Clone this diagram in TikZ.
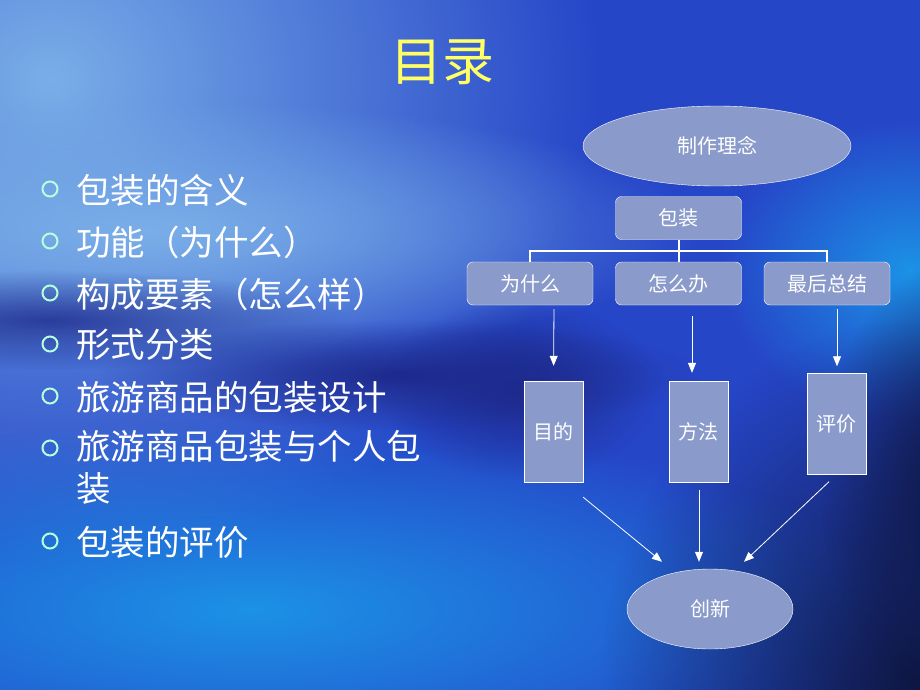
\documentclass[tikz,border=0pt]{standalone}
\usepackage{fontspec}
\setmainfont{Noto Sans CJK SC}
\usetikzlibrary{shapes.geometric,arrows.meta,fadings}

\definecolor{bgbase}{HTML}{2646C8}
\definecolor{bglight}{HTML}{7AAEE8}
\definecolor{bgdark}{HTML}{1E2A8C}
\definecolor{bgcyan}{HTML}{1C92E6}
\definecolor{bgnavy}{HTML}{0E1640}
\definecolor{boxfill}{HTML}{8A9ACB}
\definecolor{titlecol}{HTML}{FFFF66}
\definecolor{bulcol}{HTML}{B4FFDC}

\tikzfading[name=blob, inner color=transparent!0, outer color=transparent!100]

\tikzset{
  oval/.style={ellipse, draw=white, fill=boxfill, text=white, inner sep=0pt,
    font=\fontsize{20}{24}\selectfont},
  rbox/.style={rectangle, rounded corners=6pt, draw=white, fill=boxfill, text=white,
    minimum width=126pt, minimum height=43pt, inner sep=0pt, font=\fontsize{20}{24}\selectfont},
  tallbox/.style={rectangle, draw=white, fill=boxfill, text=white, minimum width=59pt,
    minimum height=101pt, inner sep=0pt, font=\fontsize{20}{24}\selectfont},
  conn/.style={draw=white, line width=2pt},
  arr/.style={draw=white, line width=0.8pt, -{Triangle[length=10pt,width=8pt]}},
  item/.style={anchor=west, text=white, align=left, inner sep=0pt,
    font=\fontsize{34.5}{42}\selectfont},
  bullet/.style={draw=bulcol, line width=2pt},
}

\begin{document}
\begin{tikzpicture}[x=1pt, y=-1pt]
  \useasboundingbox (0,0) rectangle (920,690);

  % Background
  \fill[bgbase] (0,0) rectangle (920,690);
  \fill[bglight, path fading=blob] (-500,-400) rectangle (600,560);   % top left glow
  \fill[bglight, path fading=blob] (-400,100) rectangle (700,360);    % light streak
  \fill[bgdark, path fading=blob, opacity=0.8] (-250,270) rectangle (350,370); % dark band, left
  \fill[bgdark, path fading=blob] (100,320) rectangle (700,430);      % dark band, right
  \fill[bgcyan, path fading=blob] (-400,420) rectangle (900,800);     % bottom left glow
  \fill[bgcyan, path fading=blob] (720,120) rectangle (1100,420);     % right glow
  \fill[bgnavy, path fading=blob] (600,320) rectangle (1240,1060);    % bottom right shadow
  \fill[bgnavy, path fading=blob] (820,260) rectangle (1100,700);     % right shadow
  \fill[bgdark, path fading=blob] (380,300) rectangle (660,480);      % middle shadow

  % Title
  \node[text=titlecol, font=\fontsize{52}{60}\selectfont] (title) at (442,62) {目录};

  % Left list
  \node[item] (i1) at (76,190) {包装的含义};
  \node[item] (i2) at (76,242) {功能（为什么）};
  \node[item] (i3) at (76,294) {构成要素（怎么样）};
  \node[item] (i4) at (76,345) {形式分类};
  \node[item] (i5) at (76,397) {旅游商品的包装设计};
  \node[item, anchor=north west] (i6) at (76,430) {旅游商品包装与个人包\\装};
  \node[item] (i7) at (76,542) {包装的评价};
  \foreach \y in {189,241,293,344,396,448,541}
    \draw[bullet] (50,\y) circle (7.5);

  % Chart nodes
  \node[oval, minimum width=268pt, minimum height=80pt] (idea) at (717,146) {制作理念};
  \node[rbox] (pack) at (678.5,218) {包装};
  \node[rbox] (why) at (530,283.5) {为什么};
  \node[rbox] (how) at (678.5,283.5) {怎么办};
  \node[rbox] (sum) at (827,283.5) {最后总结};
  \node[tallbox] (aim) at (553.5,431.5) {目的};
  \node[tallbox] (way) at (698.5,431.5) {方法};
  \node[tallbox] (eval) at (836.5,424) {评价};
  \node[oval, minimum width=166pt, minimum height=80pt] (new) at (710,609) {创新};

  % Tree lines
  \coordinate (split) at (678.5,251);
  \draw[conn] (pack.south) -- (split);
  \draw[conn] (split) -| (why.north);
  \draw[conn] (split) -| (how.north);
  \draw[conn] (split) -| (sum.north);

  % Down arrows
  \draw[arr, shorten <=4pt, shorten >=15pt] ([xshift=24pt]why.south) -- (aim.north);
  \draw[arr, shorten <=11pt, shorten >=8pt] ([xshift=13.5pt]how.south) -- ([xshift=-6.5pt]way.north);
  \draw[arr, shorten <=4pt, shorten >=7pt] ([xshift=10pt]sum.south) -- ([xshift=0.5pt]eval.north);

  % Arrows to bottom oval
  \draw[arr] ([yshift=-15pt]aim.south east) -- ([xshift=-48pt,yshift=7pt]new.north);
  \draw[arr] ([xshift=0.5pt,yshift=-8pt]way.south) -- ([xshift=-11pt,yshift=7pt]new.north);
  \draw[arr] ([xshift=-7.5pt,yshift=-7pt]eval.south) -- ([xshift=34pt,yshift=7pt]new.north);
\end{tikzpicture}
\end{document}
